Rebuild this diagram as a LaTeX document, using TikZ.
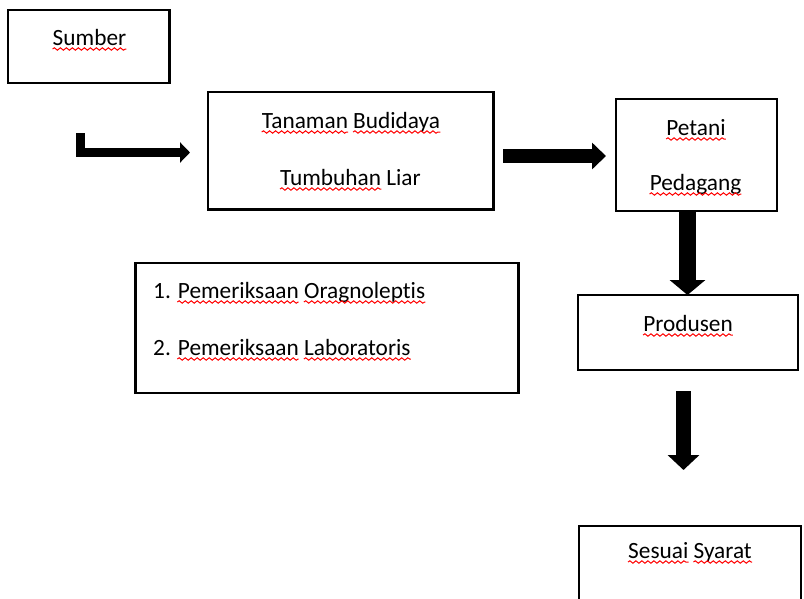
\documentclass[tikz,border=0pt]{standalone}
\usepackage{fontspec}
\setmainfont{Carlito}[Ligatures=NoCommon]
\usetikzlibrary{arrows.meta, decorations.pathmorphing}

\tikzset{
  box/.style={draw, line width=2.3pt, inner sep=0pt},
  lbl/.style={anchor=base, inner sep=0pt, font=\fontsize{23.3}{28}\selectfont},
  word/.style={lbl, inner sep=0pt},
  squig/.style={draw=red, line width=1pt, decorate,
    decoration={snake, segment length=6pt, amplitude=1.2pt}},
  blockarrow/.style={line cap=butt, line join=miter}
}
% red wavy line under the extent of a word node
\newcommand\squiggle[1]{\draw[squig] ([yshift=-3.5pt]#1.base west) -- ([yshift=-3.5pt]#1.base east);}

\begin{document}
\begin{tikzpicture}[x=1pt, y=-1pt]
\clip (0,0) rectangle (804,598);
\fill[white] (0,0) rectangle (804,598);

% boxes
\node[box, minimum width=161.5, minimum height=73.3] (sumber)   at (88.75,46.3) {};
\node[box, minimum width=285.5, minimum height=117.2] (tanaman) at (350.75,150.9) {};
\node[box, minimum width=161, minimum height=112] (petani)      at (696.5,155) {};
\node[box, minimum width=220, minimum height=75] (produsen)     at (688,332.5) {};
\node[box, minimum width=383, minimum height=130] (periksa)     at (327,327.7) {};
\node[box, minimum width=222, minimum height=114] (syarat)      at (690,583) {};

% texts
\node[lbl] (t1) at (89.5,45.5) {Sumber};
\node[lbl] (t2) at (351,128.5) {Tanaman Budidaya};
\node[lbl] (t3) at (350.5,185.5) {Tumbuhan Liar};
\node[lbl] (t4) at (696,135.5) {Petani};
\node[lbl] (t5) at (695.5,190.5) {Pedagang};
\node[lbl] (t6) at (688,331.5) {Produsen};
\node[lbl, anchor=base west] (t7) at (153,298.5) {1. Pemeriksaan Oragnoleptis};
\node[lbl, anchor=base west] (t8) at (153,355.5) {2. Pemeriksaan Laboratoris};
\node[lbl] (t9) at (690,558.5) {Sesuai Syarat};

% word extents for the wavy underlines
\node[word, anchor=base west] (w2a) at (t2.base west) {\phantom{Tanaman}};
\node[word, anchor=base east] (w2b) at (t2.base east) {\phantom{Budidaya}};
\node[word, anchor=base west] (w3a) at (t3.base west) {\phantom{Tumbuhan}};
\node[word, anchor=base east] (w7b) at (t7.base east) {\phantom{Oragnoleptis}};
\node[word, anchor=base east] (w7a) at ([xshift=-5.27pt]w7b.base west) {\phantom{Pemeriksaan}};
\node[word, anchor=base east] (w8b) at (t8.base east) {\phantom{Laboratoris}};
\node[word, anchor=base east] (w8a) at ([xshift=-5.27pt]w8b.base west) {\phantom{Pemeriksaan}};
\node[word, anchor=base west] (w9a) at (t9.base west) {\phantom{Sesuai}};
\node[word, anchor=base east] (w9b) at (t9.base east) {\phantom{Syarat}};

\squiggle{t1}
\squiggle{w2a}
\squiggle{w2b}
\squiggle{w3a}
\squiggle{t4}
\squiggle{t5}
\squiggle{t6}
\squiggle{w7a}
\squiggle{w7b}
\squiggle{w8a}
\squiggle{w8b}
\squiggle{w9a}
\squiggle{w9b}

% connector end points
\coordinate (a1s) at (80.5,133);
\coordinate (a1e) at (190,152.5);
\coordinate (a2s) at (503,156);
\coordinate (a2e) at (606,156);
\coordinate (a3s) at (687.5,211);
\coordinate (a3e) at (687.5,295);
\coordinate (a4s) at (683.5,391);
\coordinate (a4e) at (683.5,470);

% block arrows
\draw[blockarrow, line width=9pt, -{Triangle[length=10pt, width=20pt]}] (a1s) |- (a1e);
\draw[blockarrow, line width=14pt, -{Triangle[length=14pt, width=26pt]}] (a2s) -- (a2e);
\draw[blockarrow, line width=17pt, -{Triangle[length=15pt, width=35pt]}] (a3s) -- (a3e);
\draw[blockarrow, line width=15pt, -{Triangle[length=15pt, width=31pt]}] (a4s) -- (a4e);
\end{tikzpicture}
\end{document}
